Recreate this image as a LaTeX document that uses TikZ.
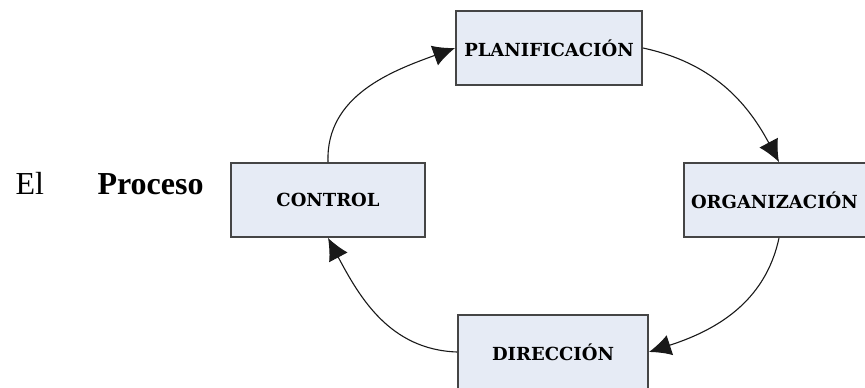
\documentclass[tikz,border=0pt]{standalone}
\usepackage{fontspec}
\setmainfont{Liberation Serif}
\newfontfamily\boxfont{DejaVu Serif}
\usetikzlibrary{arrows.meta}
\definecolor{boxfill}{HTML}{E6EBF5}
\definecolor{boxline}{HTML}{454545}
\tikzset{
  etapa/.style={draw=boxline,line width=1.8pt,fill=boxfill,minimum width=186pt,minimum height=74pt,
    font=\boxfont\bfseries\fontsize{18}{20}\selectfont,inner sep=0pt},
  flecha/.style={-{Latex[length=22pt,width=21pt]},line width=1.1pt,color=black!90}
}
\begin{document}
\begin{tikzpicture}[x=1pt,y=-1pt]
    \useasboundingbox (0,0) rectangle (865,388); % tamaño de la figura
    \node[anchor=base west,font=\fontsize{32}{35}\selectfont] (el) at (12,194) {El};
    \node[anchor=base west,font=\bfseries\fontsize{32}{35}\selectfont] (proceso) at (94,194) {Proceso};
    % las cuatro etapas
    \node[etapa] (plan) at (549,48) {PLANIFICACIÓN};
    \node[etapa,minimum width=190pt,text width=176pt] (org) at (779,200) {ORGANIZACIÓN};
    \node[etapa,minimum width=194pt] (control) at (328,200) {CONTROL};
    \node[etapa,minimum width=190pt] (dir) at (553,352) {DIRECCIÓN};
    % el ciclo
    \draw[flecha] (control.north) to[out=92,in=200] (plan.west);
    \draw[flecha] (plan.east) to[out=-12,in=118] (org.north);
    \draw[flecha] (org.south) to[out=-102,in=18] (dir.east);
    \draw[flecha] (dir.west) to[out=178,in=-62] (control.south);
\end{tikzpicture}
\end{document}
